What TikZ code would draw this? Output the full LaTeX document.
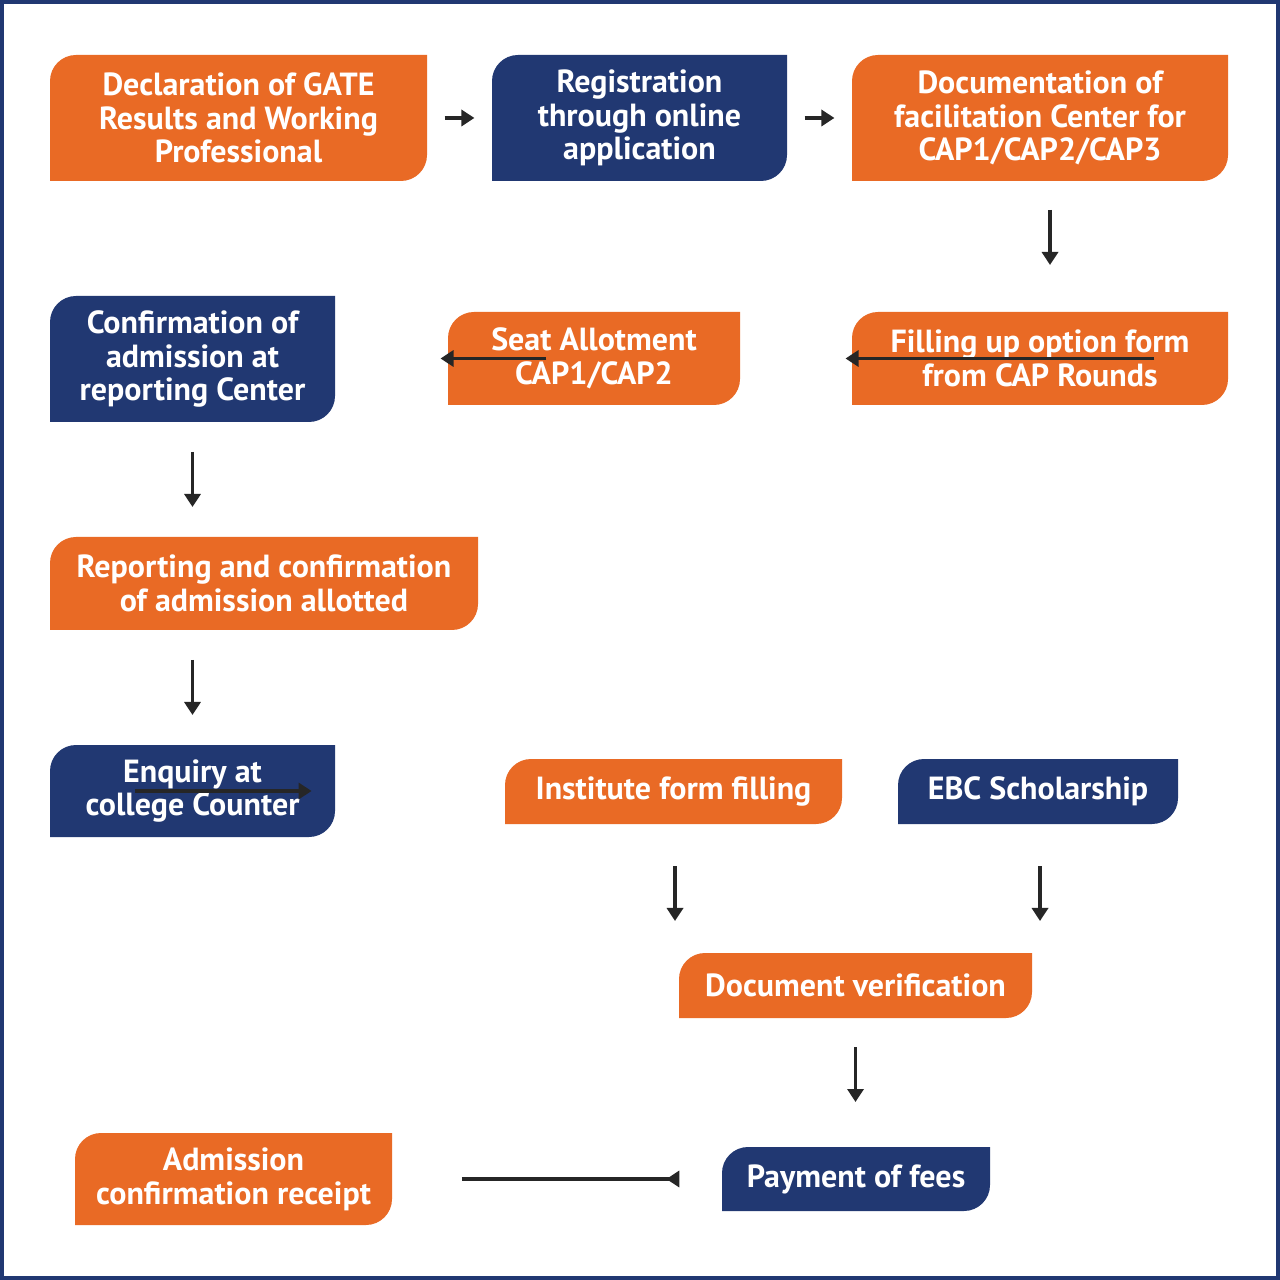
\documentclass[tikz,border=0pt]{standalone}
\usepackage{fontspec}
\setmainfont{PT Sans}
\usetikzlibrary{arrows.meta}
\definecolor{org}{HTML}{E96A25}
\definecolor{blu}{HTML}{213872}
\newcommand{\leafbox}[7]{%
  \fill[#6] (#2,#5) [rounded corners=0.26cm] -- (#2,#3) [sharp corners] -- (#4,#3) [rounded corners=0.26cm] -- (#4,#5) [sharp corners] -- cycle;
  \node[txt] (#1) at ({(#2+#4)/2},{(#3+#5)/2}) {#7};
  \path (#2,#3) coordinate (#1-tl) (#4,#5) coordinate (#1-br);
}
\tikzset{
  txt/.style={text=white,align=center,font=\bfseries\fontsize{9.1pt}{9.6pt}\selectfont,inner sep=0pt},
  arr/.style={-{Triangle[length=0.13cm,width=0.16cm]},line width=0.035cm,draw=black!85}
}
\begin{document}
\begin{tikzpicture}[x=0.01cm,y=-0.01cm]
\useasboundingbox (0,0) rectangle (1280,1280);
\fill[white] (0,0) rectangle (1280,1280);
\draw[blu,line width=0.035cm] (2,2) rectangle (1278,1278);
\leafbox{a}{50}{55}{427}{181}{org}{Declaration of GATE\\Results and Working\\Professional}
\leafbox{b}{492}{55}{787}{181}{blu}{Registration\\through online\\application}
\leafbox{c}{852}{55}{1228}{181}{org}{Documentation of\\facilitation Center for\\CAP1/CAP2/CAP3}
\leafbox{d}{852}{312}{1228}{405}{org}{Filling up option form\\from CAP Rounds}
\leafbox{e}{448}{312}{740}{405}{org}{Seat Allotment\\CAP1/CAP2}
\leafbox{f}{50}{296}{335}{422}{blu}{Confirmation of\\admission at\\reporting Center}
\leafbox{g}{50}{537}{478}{630}{org}{Reporting and confirmation\\of admission allotted}
\leafbox{h}{50}{745}{335}{837}{blu}{Enquiry at\\college Counter}
\leafbox{i}{505}{759}{842}{824}{org}{Institute form filling}
\leafbox{j}{898}{759}{1178}{824}{blu}{EBC Scholarship}
\leafbox{k}{679}{953}{1032}{1018}{org}{Document verification}
\leafbox{l}{722}{1147}{990}{1211}{blu}{Payment of fees}
\leafbox{m}{75}{1133}{392}{1225}{org}{Admission\\confirmation receipt}
\draw[arr,shorten <=5,shorten >=5] (a.east |- 0,118) ++(0,0) coordinate (a1) (a-br |- a1) -- (b-tl |- a1);
\draw[arr,shorten <=5,shorten >=5] (b-br |- a1) -- (c-tl |- a1);
\draw[arr] ([yshift=-29]c.south |- c-br) ++(-165,0) coordinate (c1) (1050,210) -- (1050,265);
\draw[arr,shorten <=86,shorten >=30] (d-tl |- d.center) -- (e-br |- d.center);
\draw[arr,shorten <=28,shorten >=30] (e-tl |- e.center) -- (f-br |- e.center);
\draw[arr] (f.center |- 0,452) -- (f.center |- 0,507);
\draw[arr] (f.center |- 0,660) -- (f.center |- 0,715);
\draw[arr,shorten <=57,shorten >=55] (h-br |- 0,791) -- (i-tl |- 0,791);
\draw[arr] (675,866) -- (675,921);
\draw[arr] (1040,866) -- (1040,921);
\draw[arr] (k.center |- 0,1047) -- (k.center |- 0,1102);
\draw[arr,shorten <=74,shorten >=78] (l-tl |- 0,1179) -- (m-br |- 0,1179);
\end{tikzpicture}
\end{document}
